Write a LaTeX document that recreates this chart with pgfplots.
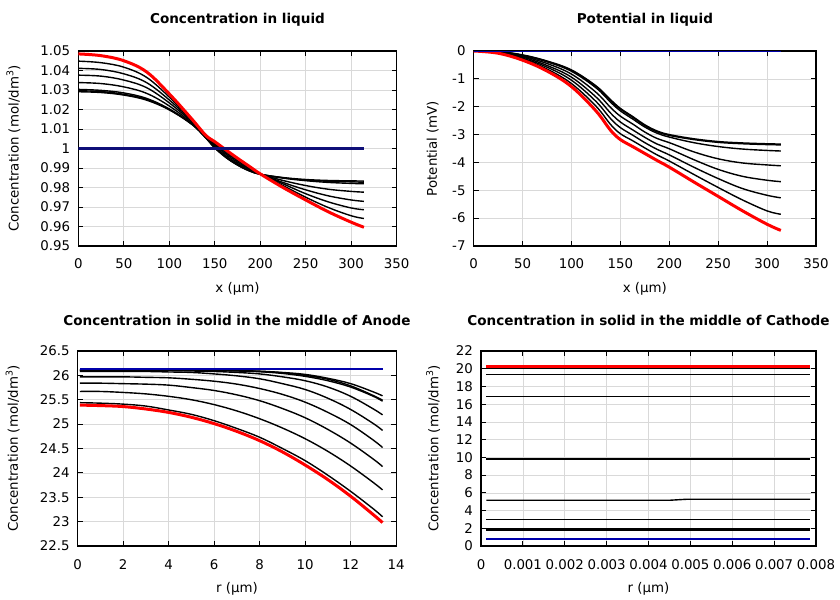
\documentclass[border=0pt]{standalone}
\usepackage{fontspec}
\setmainfont{DejaVu Sans}
\usepackage{pgfplots}
\pgfplotsset{compat=1.18}
\usepackage{pgfplotstable}

\definecolor{cred}{RGB}{255,0,0}
\definecolor{cblue}{RGB}{0,0,170}
\definecolor{cnavy}{RGB}{15,15,120}

\pgfplotstableread{
x     K      b6     b5     b4     b3     b2     b1     R
0     1.0291 1.0296 1.0303 1.0338 1.0376 1.0411 1.0448 1.0485
25    1.0287 1.0292 1.0298 1.0333 1.0371 1.0405 1.0440 1.0476
50    1.0274 1.0278 1.0285 1.0316 1.0351 1.0383 1.0417 1.0450
75    1.0248 1.0252 1.0257 1.0283 1.0312 1.0338 1.0365 1.0393
100   1.0198 1.0200 1.0203 1.0218 1.0234 1.0249 1.0264 1.0280
125   1.0123 1.0124 1.0125 1.0129 1.0135 1.0140 1.0145 1.0150
140   1.0055 1.0055 1.0056 1.0058 1.0061 1.0063 1.0066 1.0068
150   1.0003 1.0004 1.0005 1.0011 1.0017 1.0023 1.0029 1.0035
162.5 0.9953 0.9954 0.9955 0.9962 0.9970 0.9977 0.9985 0.9992
175   0.9915 0.9916 0.9917 0.9923 0.9930 0.9937 0.9943 0.9950
187.5 0.9886 0.9887 0.9887 0.9892 0.9897 0.9901 0.9905 0.9910
200   0.9868 0.9868 0.9868 0.9869 0.9869 0.9869 0.9870 0.9870
225   0.9851 0.9850 0.9848 0.9836 0.9826 0.9819 0.9810 0.9800
250   0.9841 0.9838 0.9835 0.9810 0.9788 0.9768 0.9750 0.9736
275   0.9836 0.9832 0.9826 0.9791 0.9757 0.9726 0.9697 0.9675
300   0.9834 0.9829 0.9821 0.9780 0.9736 0.9695 0.9655 0.9622
314   0.9833 0.9827 0.9819 0.9776 0.9729 0.9686 0.9641 0.9596
}\tabCL

\pgfplotstableread{
x     T      b6     b5     b4     b3     b2     b1     R
0     0      0      0      0      0      0      0      0
25    -0.02  -0.02  -0.02  -0.04  -0.05  -0.06  -0.07  -0.08
50    -0.14  -0.15  -0.16  -0.19  -0.22  -0.26  -0.29  -0.33
75    -0.36  -0.37  -0.39  -0.45  -0.52  -0.58  -0.65  -0.72
100   -0.68  -0.70  -0.73  -0.83  -0.94  -1.05  -1.17  -1.28
125   -1.25  -1.27  -1.32  -1.48  -1.65  -1.81  -1.98  -2.15
140   -1.75  -1.78  -1.84  -2.03  -2.23  -2.43  -2.64  -2.85
150   -2.06  -2.09  -2.15  -2.34  -2.55  -2.75  -2.97  -3.18
162.5 -2.35  -2.38  -2.44  -2.62  -2.83  -3.02  -3.22  -3.43
175   -2.65  -2.68  -2.73  -2.91  -3.10  -3.29  -3.48  -3.68
187.5 -2.87  -2.90  -2.95  -3.14  -3.34  -3.53  -3.73  -3.93
200   -3.00  -3.03  -3.09  -3.29  -3.51  -3.73  -3.95  -4.17
225   -3.15  -3.18  -3.29  -3.62  -3.90  -4.17  -4.43  -4.70
250   -3.25  -3.28  -3.43  -3.87  -4.25  -4.58  -4.90  -5.22
275   -3.30  -3.33  -3.52  -4.02  -4.50  -4.94  -5.35  -5.74
300   -3.33  -3.36  -3.57  -4.09  -4.64  -5.18  -5.74  -6.22
314   -3.34  -3.37  -3.59  -4.12  -4.69  -5.27  -5.86  -6.44
}\tabPL

\pgfplotstableread{
r     A1     A2     A3     A4     A5     A6     A7     A8     A9     R
0.1   26.11  26.11  26.11  26.10  26.08  25.97  25.84  25.67  25.44  25.39
1     26.11  26.11  26.11  26.10  26.08  25.97  25.84  25.67  25.43  25.38
2     26.11  26.11  26.11  26.10  26.08  25.97  25.83  25.65  25.41  25.36
3     26.11  26.11  26.11  26.10  26.08  25.96  25.82  25.62  25.37  25.31
4     26.11  26.11  26.11  26.10  26.07  25.95  25.80  25.57  25.29  25.24
5     26.11  26.11  26.105 26.09  26.06  25.92  25.75  25.50  25.20  25.14
6     26.106 26.105 26.10  26.08  26.03  25.88  25.69  25.40  25.07  25.01
7     26.099 26.097 26.09  26.06  25.99  25.82  25.60  25.27  24.91  24.85
8     26.086 26.082 26.075 26.03  25.93  25.73  25.48  25.11  24.73  24.66
9     26.06  26.052 26.04  25.97  25.83  25.61  25.32  24.92  24.50  24.43
10    26.02  26.00  25.98  25.89  25.71  25.45  25.13  24.70  24.25  24.16
11    25.94  25.92  25.89  25.76  25.53  25.24  24.89  24.44  23.95  23.86
12    25.83  25.785 25.76  25.57  25.30  24.99  24.61  24.14  23.62  23.52
13    25.66  25.585 25.57  25.31  25.01  24.67  24.28  23.80  23.26  23.14
13.4  25.58  25.49  25.47  25.19  24.87  24.52  24.13  23.65  23.10  22.98
}\tabSA

\pgfplotsset{
  base/.style={
    scale only axis,
    anchor=south west,
    height=195bp,
    grid=major,
    grid style={line width=0.6bp, color=black!15},
    axis line style={line width=1.1bp},
    major tick style={line width=0.8bp, black},
    major tick length=5bp,
    tick align=inside,
    xtick pos=both, ytick pos=both,
    every tick label/.append style={font=\fontsize{13.4}{15}\selectfont},
    label style={font=\fontsize{13.4}{15}\selectfont},
    title style={font=\fontsize{13.6}{15}\selectfont\bfseries, at={(0.5,1.128)}, anchor=center},
    xticklabel style={anchor=base, yshift=-23bp},
    yticklabel style={anchor=east, inner sep=0pt, xshift=-8bp},
    xlabel style={at={(axis description cs:0.5,-0.221)}, anchor=center},
    /pgf/number format/assume math mode=true,
    scaled ticks=false,
  },
  blk/.style={black, line width=1.4bp, smooth, tension=0.6},
  redl/.style={cred, line width=3bp, smooth, tension=0.6},
  flat/.style={black, line width=1.4bp},
}

\begin{document}
\begin{tikzpicture}
\path[use as bounding box] (0,0) rectangle (840bp,600bp);

% Top left
\begin{axis}[base, at={(78.3bp,354bp)}, width=318.4bp,
  title={Concentration in liquid},
  xlabel={x (µm)}, ylabel={Concentration (mol/dm\textsuperscript{3})},
  ylabel style={at={(axis description cs:-0.204,0.5)}, anchor=center},
  xmin=0, xmax=350, ymin=0.95, ymax=1.05,
  xtick={0,50,100,150,200,250,300,350},
  ytick={0.95,0.96,0.97,0.98,0.99,1,1.01,1.02,1.03,1.04,1.05},
  yticklabel style={/pgf/number format/.cd, fixed, precision=2},
]
\addplot[blk] table[x=x,y=K]{\tabCL};
\addplot[blk] table[x=x,y=b6]{\tabCL};
\addplot[blk] table[x=x,y=b5]{\tabCL};
\addplot[blk] table[x=x,y=b4]{\tabCL};
\addplot[blk] table[x=x,y=b3]{\tabCL};
\addplot[blk] table[x=x,y=b2]{\tabCL};
\addplot[blk] table[x=x,y=b1]{\tabCL};
\addplot[redl] table[x=x,y=R]{\tabCL};
\addplot[cnavy, line width=2.4bp] coordinates {(0,1) (314,1)};
\end{axis}

% Top right
\begin{axis}[base, at={(473.7bp,354bp)}, width=342.3bp,
  title={Potential in liquid},
  xlabel={x (µm)}, ylabel={Potential (mV)},
  ylabel style={at={(axis description cs:-0.12,0.5)}, anchor=center},
  xmin=0, xmax=350, ymin=-7, ymax=0,
  xtick={0,50,100,150,200,250,300,350},
  ytick={-7,-6,-5,-4,-3,-2,-1,0},
]
\addplot[blk] table[x=x,y=T]{\tabPL};
\addplot[blk] table[x=x,y=b6]{\tabPL};
\addplot[blk] table[x=x,y=b5]{\tabPL};
\addplot[blk] table[x=x,y=b4]{\tabPL};
\addplot[blk] table[x=x,y=b3]{\tabPL};
\addplot[blk] table[x=x,y=b2]{\tabPL};
\addplot[blk] table[x=x,y=b1]{\tabPL};
\addplot[redl] table[x=x,y=R]{\tabPL};
\addplot[cblue, line width=2.4bp] coordinates {(0,0) (314,0)};
\end{axis}

% Bottom left
\begin{axis}[base, at={(77.7bp,54bp)}, width=318.5bp,
  title={Concentration in solid in the middle of Anode},
  xlabel={r (µm)}, ylabel={Concentration (mol/dm\textsuperscript{3})},
  ylabel style={at={(axis description cs:-0.204,0.5)}, anchor=center},
  xmin=0, xmax=14, ymin=22.5, ymax=26.5,
  xtick={0,2,4,6,8,10,12,14},
  ytick={22.5,23,23.5,24,24.5,25,25.5,26,26.5},
]
\addplot[blk] table[x=r,y=A1]{\tabSA};
\addplot[blk] table[x=r,y=A2]{\tabSA};
\addplot[blk] table[x=r,y=A3]{\tabSA};
\addplot[blk] table[x=r,y=A4]{\tabSA};
\addplot[blk] table[x=r,y=A5]{\tabSA};
\addplot[blk] table[x=r,y=A6]{\tabSA};
\addplot[blk] table[x=r,y=A7]{\tabSA};
\addplot[blk] table[x=r,y=A8]{\tabSA};
\addplot[blk] table[x=r,y=A9]{\tabSA};
\addplot[redl] table[x=r,y=R]{\tabSA};
\addplot[cblue, line width=2.4bp] coordinates {(0.1,26.135) (13.4,26.135)};
\end{axis}

% Bottom right
\begin{axis}[base, at={(481bp,54bp)}, width=335bp,
  title={Concentration in solid in the middle of Cathode},
  xlabel={r (µm)}, ylabel={Concentration (mol/dm\textsuperscript{3})},
  ylabel style={at={(axis description cs:-0.143,0.5)}, anchor=center},
  xmin=0, xmax=0.008, ymin=0, ymax=22,
  xtick={0,0.001,0.002,0.003,0.004,0.005,0.006,0.007,0.008},
  ytick={0,2,4,6,8,10,12,14,16,18,20,22},
  xticklabel style={/pgf/number format/.cd, fixed, precision=3},
]
\addplot[flat] coordinates {(0.00013,1.82) (0.00786,1.82)};
\addplot[flat] coordinates {(0.00013,1.90) (0.00786,1.90)};
\addplot[flat] coordinates {(0.00013,1.98) (0.00786,1.98)};
\addplot[flat] coordinates {(0.00013,2.97) (0.00786,2.97)};
\addplot[flat] coordinates {(0.00013,5.16) (0.0045,5.16) (0.0049,5.27) (0.00786,5.27)};
\addplot[flat] coordinates {(0.00013,9.81) (0.00786,9.81)};
\addplot[flat] coordinates {(0.00013,16.89) (0.00786,16.89)};
\addplot[flat] coordinates {(0.00013,19.37) (0.00786,19.37)};
\addplot[flat] coordinates {(0.00013,20.02) (0.00786,20.02)};
\addplot[cred, line width=3bp] coordinates {(0.00013,20.23) (0.00786,20.23)};
\addplot[cblue, line width=2.4bp] coordinates {(0.00013,0.76) (0.00786,0.76)};
\end{axis}
\end{tikzpicture}
\end{document}
